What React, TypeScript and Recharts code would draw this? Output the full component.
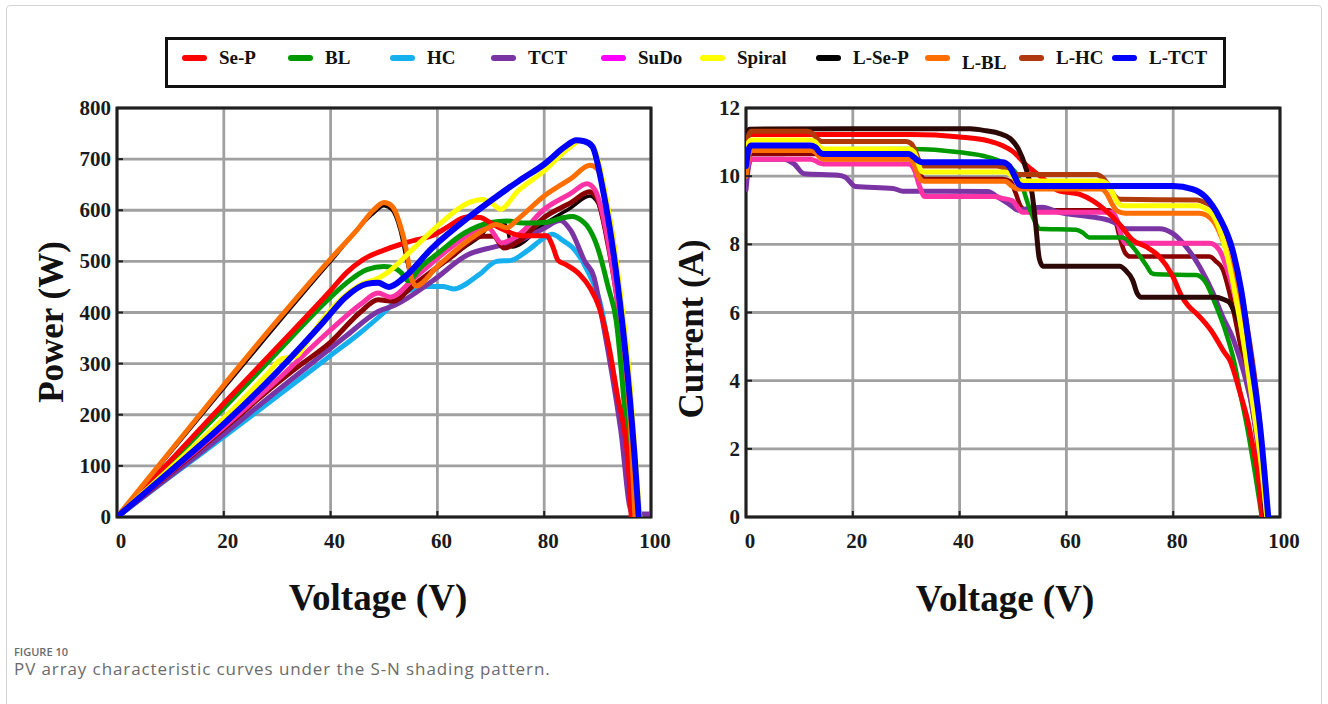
import React from "react";
import { LineChart, Line, XAxis, YAxis, CartesianGrid, ReferenceArea } from "recharts";

// ---- axis ticks ----
const voltTicks = [0, 20, 40, 60, 80, 100];
const powerTicks = [0, 100, 200, 300, 400, 500, 600, 700, 800];
const currentTicks = [0, 2, 4, 6, 8, 10, 12];

// ---- legend ----
const seriesNames = ["Se-P", "BL", "HC", "TCT", "SuDo", "Spiral", "L-Se-P", "L-BL", "L-HC", "L-TCT"];
const legendColors = ["#ff0000", "#009a00", "#16b0ee", "#7b34a3", "#ff00ff", "#ffff00", "#000000", "#ff6f00", "#b03a10", "#0000ff"];

// ---- P-V curves [V, P] ----
const pvSeP = [[0, 0], [10, 110], [20, 222], [30, 332], [40, 443], [43, 478], [46, 503], [50, 522], [53, 533], [56, 542], [59, 550], [62, 568], [65.5, 587], [68, 586], [70, 575], [72, 564], [76, 550], [80.5, 550], [81.5, 532], [82.6, 502], [84, 494], [86.6, 475], [88.6, 448], [90.3, 410], [92, 340], [93.7, 238], [95.7, 108], [96.3, 0]];
const pvBL = [[0, 0], [10, 106], [20, 213], [30, 322], [40, 430], [43, 458], [46.8, 484], [50, 490], [52.2, 486], [53.3, 477], [54.5, 462], [57, 490], [60, 515], [65, 555], [70, 576], [73, 579], [76, 575], [80, 576], [83, 584], [85.3, 588], [87, 580], [88, 570], [90, 527], [92, 449], [93.5, 383], [95.3, 180], [96.7, 0]];
const pvHC = [[0, 0], [10, 79], [20, 157], [30, 236], [40, 316], [45.5, 360], [50, 400], [54.3, 441], [58.3, 451], [61, 451], [63, 446], [67.8, 474], [71.1, 500], [73.8, 502], [77, 522], [80, 546], [81.5, 553], [83.6, 540], [85.3, 527], [88, 484], [90.7, 409], [92.3, 316], [95, 140], [96.4, 0]];
const pvTCT = [[0, 0], [10, 80], [20, 162], [30, 247], [40, 330], [43, 355], [48.9, 402], [52.2, 415], [59, 461], [65.7, 513], [70.5, 528], [75.2, 540], [80, 565], [83, 580], [85, 560], [87.6, 500], [89.3, 470], [91, 380], [94.3, 173], [96.4, 8], [97.5, 6], [99.7, 6]];
const pvSuDo = [[0, 0], [10, 88], [20, 176], [30, 268], [40, 366], [45.5, 415], [48.9, 438], [51.2, 430], [55.6, 467], [62.4, 526], [67.8, 563], [69.5, 566], [72, 536], [75.2, 552], [80, 602], [85, 633], [88, 652], [89.5, 640], [91, 590], [92.6, 499], [95.3, 270], [97, 0]];
const pvSpiral = [[0, 0], [10, 96], [20, 193], [28, 278], [31, 310], [33.5, 314], [36, 350], [38.7, 389], [45.5, 454], [48.9, 467], [50.9, 480], [55.6, 526], [60.3, 572], [65.7, 614], [68.4, 621], [70.5, 611], [71.8, 602], [75, 637], [80, 677], [85, 725], [86.7, 736], [88, 733], [89.3, 722], [91.3, 640], [94, 460], [96, 270], [97.2, 100], [97.9, 0]];
const pvLSeP = [[0, 0], [20, 252], [40, 500], [48, 594], [50, 609], [51.5, 601], [53, 562], [54.3, 500], [55.5, 456], [60, 488], [65, 527], [68, 549], [70, 572], [72, 578], [73, 566], [74, 528], [80, 573], [85, 605], [88.5, 628], [90, 615], [92, 530], [94, 410], [96, 210], [97.2, 0]];
const pvLBL = [[0, 0], [10, 129], [20, 258], [30, 384], [40, 505], [45, 562], [48, 600], [50, 615], [51.5, 608], [53, 572], [54.2, 522], [55, 472], [56, 452], [60, 490], [65, 535], [69, 563], [71, 572], [73, 566], [75, 582], [80, 628], [85, 662], [88.6, 688], [90, 680], [91, 645], [93, 535], [95, 340], [96.2, 170], [97, 0]];
const pvLHC = [[0, 0], [10, 86], [20, 173], [30, 262], [33.5, 291], [40, 342], [45.5, 400], [48.9, 425], [51.6, 422], [55.6, 454], [62.4, 507], [68.4, 549], [70.5, 549], [72.5, 526], [75.2, 539], [80, 586], [85, 615], [88.5, 636], [90, 620], [92, 530], [94, 400], [96, 200], [97.2, 0]];
const pvLTCT = [[0, 0], [10, 90], [20, 182], [30, 284], [38.7, 382], [42.8, 430], [46.8, 456], [48.9, 458], [50.9, 450], [53.6, 467], [59, 526], [65.7, 585], [71.1, 627], [75.2, 657], [80, 690], [84, 725], [86, 737], [87.5, 735], [89, 725], [91, 640], [93.7, 460], [95.7, 270], [97, 108], [97.7, 0]];

// ---- I-V curves [V, I] ----
const ivSeP = [[0, 11.2], [0.5, 11.22], [31, 11.22], [40, 11.15], [45.3, 11.04], [48, 10.9], [50, 10.72], [52.4, 10.34], [55.5, 9.95], [58.6, 9.57], [62.4, 9.47], [64.9, 9.28], [67.4, 8.99], [69.9, 8.6], [72.4, 8.13], [74.9, 7.93], [77.4, 7.64], [79.9, 7.07], [81.5, 6.5], [82.8, 6.2], [84.5, 5.95], [87.2, 5.45], [89.5, 4.85], [90.6, 4.6], [92.6, 3.6], [94, 2.8], [95, 2.0], [96, 1.1], [96.6, 0]];
const ivBL = [[0, 10.78], [31, 10.8], [40, 10.7], [45.3, 10.56], [47.9, 10.41], [50.5, 10.1], [51.5, 9.8], [53, 9.1], [54.3, 8.6], [54.9, 8.46], [61.8, 8.43], [63, 8.35], [64.3, 8.2], [70.5, 8.2], [72.4, 7.93], [74.9, 7.4], [76, 7.15], [76.8, 7.12], [84.3, 7.1], [86.1, 6.88], [88, 6.2], [89.9, 5.4], [91.5, 4.5], [92.6, 3.6], [94, 2.5], [95.3, 1.3], [96.6, 0]];
const ivHC = [[0, 10.2], [0.5, 10.55], [1, 10.65], [30.5, 10.65], [31.5, 10.5], [32.5, 10.1], [33.5, 9.92], [48, 9.92], [49.5, 9.85], [50.5, 9.5], [51.5, 9.1], [52.5, 9.0], [68, 9.0], [69, 8.8], [70, 8.2], [71, 7.75], [72, 7.64], [86.8, 7.64], [88, 7.5], [89.3, 7.26], [90.5, 6.6], [92, 5.5], [93.5, 4.3], [95, 3.0], [96.5, 1.3], [97.3, 0]];
const ivTCT = [[0, 9.6], [0.5, 10.3], [1, 10.5], [7, 10.5], [9, 10.36], [10.9, 10.07], [17.3, 10.03], [18.6, 9.97], [20.5, 9.7], [27.5, 9.64], [29.4, 9.56], [45.3, 9.55], [47, 9.4], [49.2, 9.19], [51, 9.0], [53, 9.05], [55.5, 9.09], [58.6, 8.94], [64.9, 8.8], [68, 8.7], [69.5, 8.6], [71.1, 8.46], [77.4, 8.46], [79.9, 8.32], [82.4, 7.93], [84.9, 7.36], [87.4, 6.59], [89.2, 5.9], [91.3, 5.2], [93.3, 4.2], [95, 3.0], [96, 1.8], [96.8, 0]];
const ivSuDo = [[0, 10.1], [0.5, 10.4], [1, 10.5], [12, 10.5], [13, 10.45], [13.8, 10.38], [14.5, 10.36], [30.5, 10.36], [31.5, 10.2], [32.5, 9.7], [33.5, 9.4], [46.5, 9.4], [48, 9.35], [49.9, 9.28], [50.8, 9.1], [51.8, 8.94], [68.6, 8.94], [69.5, 8.7], [70.3, 8.25], [71.1, 8.03], [86.8, 8.03], [88.6, 7.84], [90.5, 7.07], [92.4, 5.91], [93.9, 4.57], [95.5, 2.8], [96.6, 1.3], [97.2, 0]];
const ivSpiral = [[0, 10.5], [0.5, 11.0], [1, 11.06], [12, 11.06], [13, 11.0], [13.8, 10.85], [14.5, 10.8], [30.5, 10.8], [31.5, 10.7], [32.3, 10.35], [33, 10.12], [48.5, 10.12], [49.5, 10.05], [50.5, 9.9], [51.5, 9.86], [66.5, 9.86], [67.5, 9.8], [68.5, 9.55], [69.5, 9.25], [70.5, 9.13], [84.5, 9.13], [86, 9.05], [87.5, 8.85], [89, 8.3], [90.5, 7.4], [92, 6.2], [93.5, 4.8], [95, 3.2], [96.5, 1.5], [97.5, 0]];
const ivLSeP = [[0, 11.1], [0.6, 11.38], [20, 11.39], [42, 11.39], [45, 11.33], [47.5, 11.25], [49.5, 11.1], [51, 10.8], [52.4, 10.24], [53.6, 9.47], [54.3, 8.51], [54.9, 7.6], [55.6, 7.36], [70, 7.36], [71, 7.25], [72.4, 6.95], [73.3, 6.55], [74, 6.45], [88, 6.45], [89.5, 6.38], [90.5, 6.3], [91.5, 6.0], [92.4, 5.7], [93.7, 4.8], [95, 3.6], [96, 2.5], [96.8, 1.2], [97.3, 0]];
const ivLBL = [[0, 10.0], [0.5, 10.6], [1, 10.75], [12, 10.75], [13, 10.7], [13.8, 10.55], [14.5, 10.5], [30.5, 10.5], [31.5, 10.35], [32.3, 10.0], [33.3, 9.85], [48.5, 9.85], [49.9, 9.7], [51, 9.62], [66.5, 9.62], [67.5, 9.5], [68.5, 9.2], [69.5, 8.98], [71, 8.91], [84.9, 8.91], [87.4, 8.7], [89.9, 7.84], [92.4, 6.4], [93.8, 5.2], [95.3, 3.59], [96.5, 1.8], [97.5, 0]];
const ivLHC = [[0, 10.6], [0.5, 11.2], [1, 11.32], [11.5, 11.32], [12.5, 11.25], [13.3, 11.1], [14.2, 11.02], [30, 11.02], [31, 10.95], [31.8, 10.7], [32.5, 10.4], [33.2, 10.3], [47, 10.3], [48.5, 10.22], [49.8, 10.08], [50.8, 10.05], [65.6, 10.05], [66.8, 9.95], [68, 9.7], [69, 9.42], [70, 9.32], [84.5, 9.3], [86, 9.22], [87.4, 9.09], [89.9, 8.32], [91.8, 7.36], [93.9, 5.54], [96, 3.1], [97.6, 0]];
const ivLTCT = [[0, 10.3], [0.5, 10.8], [1, 10.9], [12, 10.9], [13, 10.85], [13.8, 10.7], [14.5, 10.65], [30.5, 10.65], [31.5, 10.55], [32.3, 10.45], [33, 10.41], [48, 10.41], [49.3, 10.3], [50.3, 10.0], [51.1, 9.76], [52, 9.71], [80, 9.71], [83.6, 9.62], [86.1, 9.38], [88.6, 8.8], [91.1, 7.84], [92.7, 6.68], [94.6, 4.57], [96.3, 2.61], [97.8, 0]];

const toPts = (arr: number[][]) => arr.map(([x, y]) => ({ x, y }));

// drawing order: first is at the bottom
const pvSeries = [
  { name: "L-Se-P", data: pvLSeP, color: "#140000", width: 3.5 },
  { name: "HC", data: pvHC, color: "#16b0ee", width: 5 },
  { name: "TCT", data: pvTCT, color: "#7b34a3", width: 5 },
  { name: "L-HC", data: pvLHC, color: "#8b0000", width: 5 },
  { name: "SuDo", data: pvSuDo, color: "#ff33a6", width: 5 },
  { name: "BL", data: pvBL, color: "#009a00", width: 5 },
  { name: "Se-P", data: pvSeP, color: "#ff0000", width: 5 },
  { name: "L-BL", data: pvLBL, color: "#ff6f00", width: 5 },
  { name: "Spiral", data: pvSpiral, color: "#ffff00", width: 5 },
  { name: "L-TCT", data: pvLTCT, color: "#0000ff", width: 6 },
];

const ivSeries = [
  { name: "HC", data: ivHC, color: "#8b0000", width: 4.5 },
  { name: "TCT", data: ivTCT, color: "#7b34a3", width: 5 },
  { name: "SuDo", data: ivSuDo, color: "#ff33a6", width: 5 },
  { name: "BL", data: ivBL, color: "#009a00", width: 4.5 },
  { name: "Se-P", data: ivSeP, color: "#ff0000", width: 5 },
  { name: "L-Se-P", data: ivLSeP, color: "#2c0806", width: 5 },
  { name: "L-HC", data: ivLHC, color: "#b03a0a", width: 5 },
  { name: "L-BL", data: ivLBL, color: "#ff6f00", width: 5 },
  { name: "Spiral", data: ivSpiral, color: "#ffff00", width: 5 },
  { name: "L-TCT", data: ivLTCT, color: "#0000ff", width: 6 },
];

const serif = "'Liberation Serif', 'Times New Roman', serif";

const XTick = ({ x, y, payload }: any) => (
  <text x={x + 4} y={y + 31} textAnchor="middle" fontFamily={serif} fontWeight="bold" fontSize={21} fill="#1a1a1a">
    {payload.value}
  </text>
);

const YTick = ({ x, y, payload }: any) => (
  <text x={x - 6} y={y + 7} textAnchor="end" fontFamily={serif} fontWeight="bold" fontSize={21} fill="#1a1a1a">
    {payload.value}
  </text>
);

function Panel({ series, yMax, yTicks, marginLeft }: any) {
  return (
    <LineChart
      width={680}
      height={560}
      margin={{ top: 108, right: 680 - 70 - marginLeft - 534, bottom: 8, left: marginLeft }}
    >
      <CartesianGrid stroke="#a0a0a0" strokeWidth={2.8} />
      <XAxis
        type="number"
        dataKey="x"
        domain={[0, 100]}
        ticks={voltTicks}
        height={35}
        axisLine={false}
        tickSize={-6}
        tickMargin={6}
        tickLine={{ stroke: "#1f1f1f", strokeWidth: 2 }}
        tick={<XTick />}
        allowDataOverflow
      />
      <YAxis
        type="number"
        domain={[0, yMax]}
        ticks={yTicks}
        width={70}
        axisLine={false}
        tickSize={-6}
        tickMargin={6}
        tickLine={{ stroke: "#1f1f1f", strokeWidth: 2 }}
        tick={<YTick />}
        allowDataOverflow
      />
      {series.map((s: any) => (
        <Line
          key={s.name}
          data={toPts(s.data)}
          dataKey="y"
          type="monotone"
          stroke={s.color}
          strokeWidth={s.width}
          strokeLinecap="round"
          strokeLinejoin="round"
          dot={false}
          activeDot={false}
          isAnimationActive={false}
        />
      ))}
      <ReferenceArea x1={0} x2={100} y1={0} y2={yMax} fill="none" stroke="#1f1f1f" strokeWidth={3} ifOverflow="visible" />
    </LineChart>
  );
}

function Legend() {
  const lefts = [14, 120, 222, 323, 433, 532, 648, 757, 851, 944];
  return (
    <div
      style={{
        position: "absolute",
        left: 165,
        top: 37,
        width: 1055,
        height: 45,
        border: "3px solid #111",
        background: "#fff",
      }}
    >
      {seriesNames.map((n, i) => (
        <div key={n} style={{ position: "absolute", left: lefts[i], top: 6, display: "flex", alignItems: "center" }}>
          <span style={{ display: "inline-block", width: 25, height: 6, borderRadius: 3, background: legendColors[i] }} />
          <span
            style={{
              marginLeft: 12,
              fontFamily: serif,
              fontWeight: "bold",
              fontSize: 19,
              color: "#111",
              lineHeight: "24px",
              position: "relative",
              top: n === "L-BL" ? 5 : 0,
            }}
          >
            {n}
          </span>
        </div>
      ))}
    </div>
  );
}

const titleStyle: React.CSSProperties = {
  position: "absolute",
  fontFamily: serif,
  fontWeight: "bold",
  color: "#111",
  whiteSpace: "nowrap",
};

export default function App() {
  return (
    <div style={{ position: "absolute", left: 0, top: 0, width: 1328, height: 704, background: "#fff", overflow: "hidden" }}>
      <div style={{ position: "absolute", left: 6, top: 5, width: 1314, height: 720, border: "1px solid #d4d4d4", borderRadius: 4 }} />
      <Legend />
      <div style={{ position: "absolute", left: 0, top: 0 }}>
        <Panel series={pvSeries} yMax={800} yTicks={powerTicks} marginLeft={47} />
      </div>
      <div style={{ position: "absolute", left: 640, top: 0 }}>
        <Panel series={ivSeries} yMax={12} yTicks={currentTicks} marginLeft={36} />
      </div>
      <div style={{ ...titleStyle, left: 378, top: 597, fontSize: 37, transform: "translate(-50%, -50%)" }}>Voltage (V)</div>
      <div style={{ ...titleStyle, left: 1005, top: 598, fontSize: 37, transform: "translate(-50%, -50%)" }}>Voltage (V)</div>
      <div style={{ ...titleStyle, left: 52, top: 322, fontSize: 35, transform: "translate(-50%, -50%) rotate(-90deg)" }}>Power (W)</div>
      <div style={{ ...titleStyle, left: 692, top: 329, fontSize: 35, transform: "translate(-50%, -50%) rotate(-90deg)" }}>Current (A)</div>
      <div
        style={{
          position: "absolute",
          left: 14,
          top: 645,
          lineHeight: "14px",
          fontFamily: "'Open Sans', sans-serif",
          fontSize: 11,
          fontWeight: 600,
          color: "#6b6b6b",
        }}
      >
        FIGURE 10
      </div>
      <div
        style={{
          position: "absolute",
          left: 14,
          top: 659,
          lineHeight: "20px",
          fontFamily: "'Open Sans', sans-serif",
          fontSize: 17,
          letterSpacing: 0.9,
          color: "#6b6b6b",
          whiteSpace: "nowrap",
        }}
      >
        PV array characteristic curves under the S-N shading pattern.
      </div>
    </div>
  );
}
